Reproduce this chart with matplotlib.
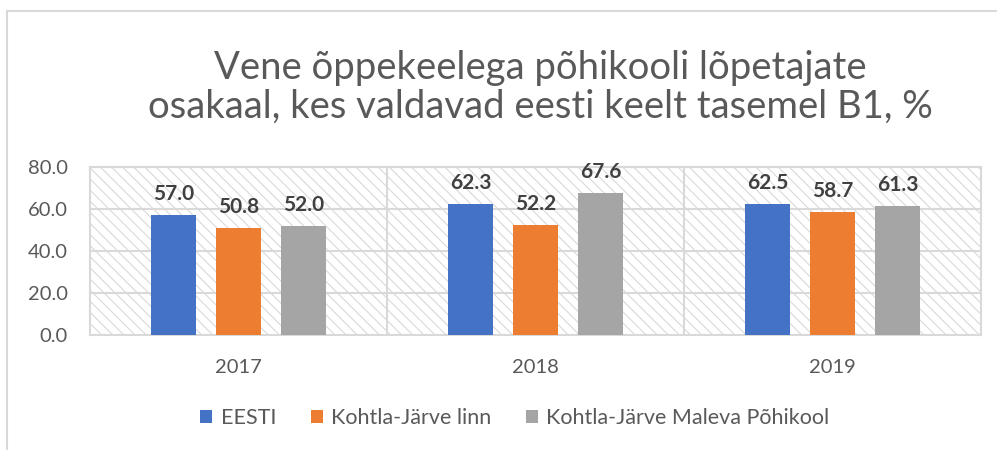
import matplotlib
matplotlib.use("Agg")
import matplotlib.pyplot as plt
import numpy as np
from matplotlib.patches import Rectangle
from matplotlib.lines import Line2D

years = ["2017", "2018", "2019"]
series_names = ["EESTI", "Kohtla-Järve linn", "Kohtla-Järve Maleva Põhikool"]
eesti = [57.0, 62.3, 62.5]
kj_linn = [50.8, 52.2, 58.7]
maleva = [52.0, 67.6, 61.3]
yticks = [0, 20, 40, 60, 80]
colors = ["#4472C4", "#ED7D31", "#A5A5A5"]
title = "Vene õppekeelega põhikooli lõpetajate\nosakaal, kes valdavad eesti keelt tasemel B1, %"

plt.rcParams['font.family'] = ['Lato', 'DejaVu Sans']
plt.rcParams['hatch.linewidth'] = 0.8

grid_c = "#d9d9d9"
text_c = "#595959"

fig = plt.figure(figsize=(9.97, 4.5), dpi=100)
ax = fig.add_axes([90/997, 1-335/450, (981-90)/997, (335-167)/450])

x = np.arange(len(years))
width = 0.152
offs = 0.219
all_series = [eesti, kj_linn, maleva]
for i, (vals, c, name) in enumerate(zip(all_series, colors, series_names)):
    bars = ax.bar(x + (i-1)*offs, vals, width, color=c, label=name, zorder=3)
    for b, v in zip(bars, vals):
        ax.annotate(f"{v:.1f}", (b.get_x()+b.get_width()/2, v), xytext=(0, 8),
                    textcoords="offset points", ha="center", va="bottom",
                    fontsize=15, fontweight="bold", color="#404040", zorder=4)

ax.set_xlim(-0.5, 2.5)
ax.set_ylim(0, 80)
ax.add_patch(Rectangle((0, 0), 1, 1, transform=ax.transAxes, facecolor="white",
                       edgecolor=grid_c, hatch='\\\\\\', lw=0, zorder=0))
ax.set_yticks(yticks)
ax.set_yticklabels([f"{v:.1f}" for v in yticks])
ax.set_xticks(x)
ax.set_xticklabels(years)
ax.tick_params(axis='y', length=0, pad=16, labelsize=14.5, labelcolor=text_c)
ax.tick_params(axis='x', length=0, pad=17, labelsize=14.5, labelcolor=text_c)
for yv in yticks[1:]:
    ax.axhline(yv, color=grid_c, lw=1.5, zorder=1)
for xv in [0.5, 1.5]:
    ax.axvline(xv, color=grid_c, lw=1.5, zorder=1)
for s in ax.spines.values():
    s.set_color(grid_c)
    s.set_linewidth(1.5)
    s.set_zorder(2)

fig.text(540/997, 1-87/450, title, ha="center", va="center", fontsize=27.5,
         color=text_c, linespacing=1.1)

fig.legend(loc="center", bbox_to_anchor=(515/997, 1-418/450), ncol=3, frameon=False,
           fontsize=15.5, labelcolor=text_c, handlelength=0.55, handleheight=0.55,
           handletextpad=0.4, columnspacing=1.6)

fig.add_artist(Line2D([7/997, 1], [1-11/450, 1-11/450], color=grid_c, lw=1.5))
fig.add_artist(Line2D([7/997, 7/997], [0, 1-11/450], color=grid_c, lw=1.5))

fig.savefig("out.png", dpi=100)
